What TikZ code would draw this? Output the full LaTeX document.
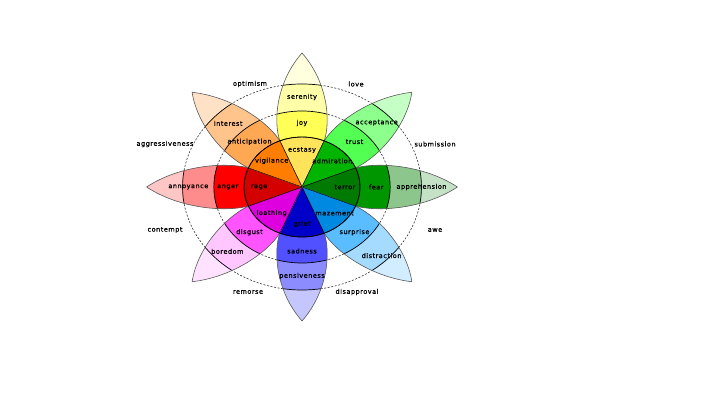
\documentclass[tikz,border=0pt]{standalone}
\usepackage{fontspec}
\newfontfamily\wheelfont[LetterSpace=8,FakeBold=0.8]{DejaVu Sans}

% one petal, pointing along +x, before rotation
\newcommand\petal{(46.2,19.1) .. controls (66,25) and (105,22) .. (134,0)
  .. controls (105,-22) and (66,-25) .. (46.2,-19.1) -- (0,0) -- cycle}

\definecolor{ecstasy}{HTML}{FFE35A}\definecolor{joy}{HTML}{FFFF55}
\definecolor{serenity}{HTML}{FFFFAA}\definecolor{joytip}{HTML}{FFFFDD}
\definecolor{admiration}{HTML}{00B400}\definecolor{trust}{HTML}{54FF54}
\definecolor{acceptance}{HTML}{8CFF8C}\definecolor{trusttip}{HTML}{C6FFC6}
\definecolor{terror}{HTML}{007A00}\definecolor{fear}{HTML}{009600}
\definecolor{apprehension}{HTML}{8CC68C}\definecolor{feartip}{HTML}{C6E2C6}
\definecolor{amazement}{HTML}{0089E0}\definecolor{surprise}{HTML}{59BDFF}
\definecolor{distraction}{HTML}{A5DBFF}\definecolor{surprisetip}{HTML}{D2EDFF}
\definecolor{grief}{HTML}{0000C8}\definecolor{sadness}{HTML}{5151FF}
\definecolor{pensiveness}{HTML}{8C8CFF}\definecolor{sadnesstip}{HTML}{C6C6FF}
\definecolor{loathing}{HTML}{DE00DE}\definecolor{disgust}{HTML}{FF54FF}
\definecolor{boredom}{HTML}{FFC6FF}\definecolor{disgusttip}{HTML}{FFE2FF}
\definecolor{rage}{HTML}{D40000}\definecolor{anger}{HTML}{FF0000}
\definecolor{annoyance}{HTML}{FF8C8C}\definecolor{angertip}{HTML}{FFC6C6}
\definecolor{vigilance}{HTML}{FF7D00}\definecolor{anticipation}{HTML}{FFA854}
\definecolor{interest}{HTML}{FFC48C}\definecolor{anticipationtip}{HTML}{FFE2C6}

\begin{document}
\begin{tikzpicture}[x=1pt,y=1pt,line join=round,
  emo/.style={font=\wheelfont\fontsize{6.5}{7}\selectfont,text=black,inner sep=0pt},
  ringline/.style={draw=black!80,dash pattern=on 2pt off 1.6pt,line width=0.6pt}]
  \useasboundingbox (0,0) rectangle (720,405);
  \begin{scope}[shift={(302,218)},xscale=1.16]
    \draw[ringline] (0,0) circle[radius=76];
    \draw[ringline] (0,0) circle[radius=103];
    \foreach \ang/\lin/\lmid/\lout/\ltip/\rout in {
        90/ecstasy/joy/serenity/joytip/90,
        45/admiration/trust/acceptance/trusttip/91,
        0/terror/fear/apprehension/feartip/103,
        -45/amazement/surprise/distraction/surprisetip/97,
        -90/grief/sadness/pensiveness/sadnesstip/89,
        -135/loathing/disgust/boredom/disgusttip/91,
        180/rage/anger/annoyance/angertip/98,
        135/vigilance/anticipation/interest/anticipationtip/90} {
      \begin{scope}[rotate=\ang]
        \fill[\ltip] \petal;
        \begin{scope}
          \clip \petal;
          \fill[\lout] (0,0) circle[radius=103];
          \fill[\lmid] (0,0) circle[radius=76];
          \draw[line width=0.7pt] (0,0) circle[radius=76] (0,0) circle[radius=103];
        \end{scope}
        \draw[black!65,line width=0.6pt] \petal;
        \filldraw[fill=\lin,draw=black,line width=0.4pt]
          (0,0) -- (-22.5:50) arc[start angle=-22.5,end angle=22.5,radius=50] -- cycle;
        \node[emo] (\lin) at (37,0) {\lin};
        \node[emo] (\lmid) at (64,0) {\lmid};
        \node[emo] (\lout) at (\rout,0) {\lout};
      \end{scope}
    }
    \draw[line width=0.8pt] (0,0) circle[radius=50];
  \end{scope}
  % dyads between the petals
  \node[emo] (optimism) at (250,321) {optimism};
  \node[emo] (love) at (356,321) {love};
  \node[emo] (submission) at (435,261) {submission};
  \node[emo] (awe) at (435,175) {awe};
  \node[emo] (disapproval) at (357,113) {disapproval};
  \node[emo] (remorse) at (248,113) {remorse};
  \node[emo] (contempt) at (165,175) {contempt};
  \node[emo] (aggressiveness) at (165,261) {aggressiveness};
\end{tikzpicture}
\end{document}
